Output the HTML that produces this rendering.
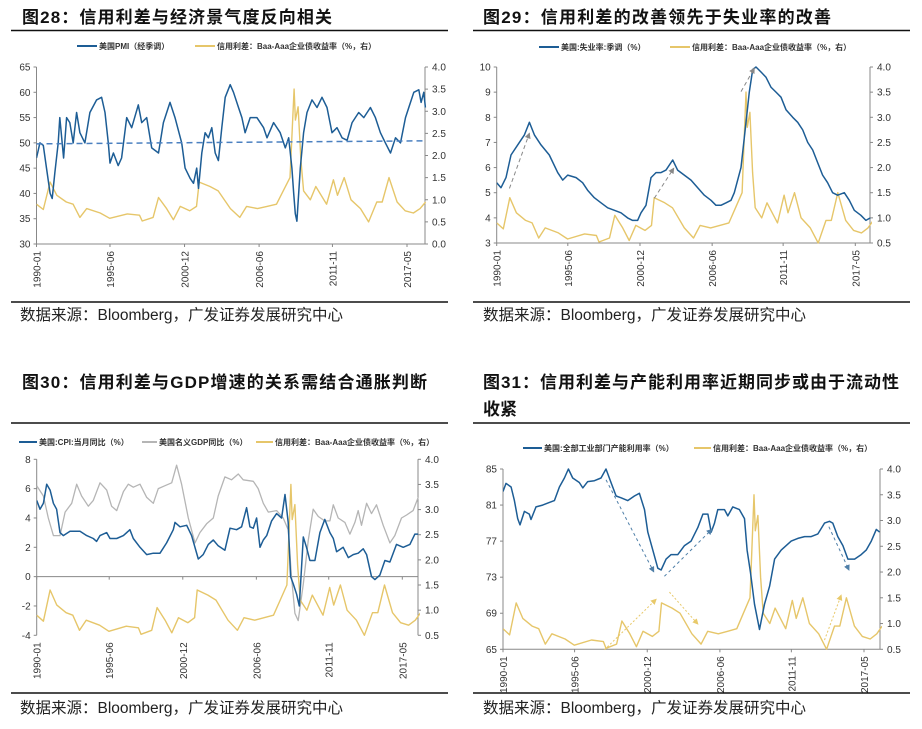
<!DOCTYPE html>
<html><head><meta charset="utf-8">
<style>
html,body{margin:0;padding:0;background:#fff;}
svg{display:block;font-family:"Liberation Sans","Noto Sans CJK SC",sans-serif;}
.title{font-size:17px;font-weight:bold;fill:#111;}
.src{font-size:15.5px;fill:#222;}
.tick{font-size:10px;fill:#333;}
.leg{font-size:8px;fill:#333;font-weight:bold;}
</style></head>
<body>
<svg id="root" width="922" height="729" viewBox="0 0 922 729" xmlns="http://www.w3.org/2000/svg">
<defs>
<marker id="arrGray" markerWidth="6" markerHeight="6" refX="5" refY="3" orient="auto"><path d="M0,0 L6,3 L0,6 z" fill="#888"/></marker>
<marker id="arrBlue" markerWidth="6" markerHeight="6" refX="5" refY="3" orient="auto"><path d="M0,0 L6,3 L0,6 z" fill="#4f7fa8"/></marker>
<marker id="arrYel" markerWidth="6" markerHeight="6" refX="5" refY="3" orient="auto"><path d="M0,0 L6,3 L0,6 z" fill="#e8c96a"/></marker>
</defs>
</svg>
<script>
// ---- shared data ----
const tickYears = [1990.0, 1995.42, 2000.92, 2006.42, 2011.83, 2017.33];
const tickLabels = ["1990-01","1995-06","2000-12","2006-06","2011-11","2017-05"];

const spreadYears = [1990.0,1990.5,1991.0,1991.5,1992.2,1992.7,1993.2,1993.7,1994.7,1995.4,1996.7,1997.6,1997.8,1998.6,1999.0,1999.6,2000.1,2000.6,2001.3,2001.8,2002.0,2002.8,2003.4,2004.3,2005.0,2005.5,2006.3,2007.0,2007.7,2008.2,2008.7,2009.0,2009.1,2009.3,2009.5,2009.7,2010.2,2010.6,2011.4,2011.9,2012.2,2012.7,2013.2,2013.9,2014.5,2015.1,2015.5,2016.0,2016.6,2017.2,2017.8,2018.3,2018.7];
const spreadValues = [0.9,0.78,1.4,1.1,0.95,0.9,0.6,0.8,0.7,0.58,0.68,0.65,0.52,0.6,1.05,0.8,0.55,0.85,0.75,0.85,1.4,1.3,1.2,0.8,0.6,0.85,0.8,0.85,0.9,1.2,1.5,3.5,2.8,3.1,1.9,1.2,1.0,1.3,0.9,1.45,1.1,1.5,1.0,0.8,0.5,0.95,0.95,1.5,0.95,0.75,0.7,0.8,0.95];

const pmiYears = [1990.0,1990.25,1990.5,1990.74,1991.0,1991.16,1991.35,1991.6,1991.72,1992.0,1992.22,1992.46,1992.71,1992.96,1993.2,1993.57,1993.94,1994.43,1994.8,1995.05,1995.3,1995.42,1995.67,1996.03,1996.28,1996.65,1997.02,1997.51,1997.76,1998.13,1998.5,1999.0,1999.36,1999.85,2000.22,2000.71,2000.96,2001.33,2001.58,2001.82,2001.95,2002.19,2002.44,2002.68,2002.93,2003.18,2003.42,2003.67,2003.92,2004.29,2004.53,2004.9,2005.15,2005.39,2005.76,2006.26,2006.75,2007.0,2007.49,2007.98,2008.35,2008.6,2008.84,2008.97,2009.09,2009.21,2009.46,2009.7,2009.95,2010.32,2010.69,2011.06,2011.43,2011.8,2012.17,2012.54,2012.91,2013.28,2013.77,2014.14,2014.63,2015.0,2015.37,2015.74,2016.11,2016.48,2016.85,2017.22,2017.46,2017.83,2018.2,2018.37,2018.57,2018.69];
const pmiValues = [47,50,49.5,45,40,39,44,50,55,47,55,54,50,56,52,50,56,58.5,59,56,50,46,48,45.5,47,55,53,57.5,54,55,49,48,54,58,55,50,45,43,42,45,41,48,52,51,53,48,46.5,53,59,61.5,60,57,55,52,55,55,53,51,54,52,49,51,45,40,36,34.5,45,52,56,58.5,57,59,57,52,53,51,50.5,54,56,55,57,55,52,50,48,51,50,55,57,60,60.5,58,60,57];
const pmiRefStart = 49.8, pmiRefEnd = 50.4;

const unempYears = [1990.0,1990.33,1990.71,1991.09,1991.6,1992.11,1992.49,1992.87,1993.38,1994.01,1994.65,1995.03,1995.41,1996.05,1996.55,1996.93,1997.44,1997.95,1998.46,1998.97,1999.47,1999.98,2000.36,2000.74,2001.0,2001.38,2001.76,2002.14,2002.52,2002.9,2003.41,2003.79,2004.3,2004.81,2005.32,2005.82,2006.33,2006.71,2007.09,2007.48,2007.86,2008.11,2008.62,2009.0,2009.25,2009.51,2009.76,2010.14,2010.52,2010.9,2011.29,2011.67,2012.05,2012.56,2012.94,2013.32,2013.7,2014.08,2014.46,2014.84,2015.22,2015.6,2015.98,2016.49,2016.87,2017.25,2017.76,2018.14,2018.47];
const unempValues = [5.4,5.2,5.6,6.5,6.9,7.3,7.8,7.3,6.9,6.5,5.8,5.5,5.7,5.6,5.4,5.1,4.8,4.6,4.4,4.3,4.2,4.0,3.9,3.9,4.2,4.5,5.6,5.8,5.8,5.9,6.3,5.9,5.7,5.5,5.2,4.9,4.7,4.5,4.5,4.6,4.7,5.0,6.0,7.8,9.0,9.9,10.0,9.8,9.6,9.2,9.0,8.8,8.3,8.0,7.8,7.5,7.0,6.7,6.2,5.7,5.4,5.0,4.9,5.0,4.7,4.3,4.1,3.9,4.0];

const cpiYears = [1990.0,1990.25,1990.5,1990.75,1991.0,1991.25,1991.49,1991.74,1991.99,1992.49,1993.24,1993.74,1994.23,1994.48,1994.73,1995.23,1995.48,1995.98,1996.48,1996.97,1997.22,1997.72,1998.22,1998.72,1999.22,1999.71,2000.21,2000.34,2000.71,2001.21,2001.58,2002.08,2002.45,2002.83,2003.2,2003.57,2004.07,2004.45,2004.94,2005.32,2005.69,2005.94,2006.19,2006.44,2006.69,2006.94,2007.19,2007.56,2007.93,2008.31,2008.56,2008.8,2008.98,2009.18,2009.43,2009.63,2009.93,2010.17,2010.42,2010.8,2011.17,2011.54,2011.92,2012.17,2012.42,2012.91,2013.29,2013.66,2014.03,2014.41,2014.66,2015.03,2015.28,2015.65,2016.03,2016.4,2016.9,2017.4,2017.9,2018.27,2018.52];
const cpiValues = [5.2,4.6,5.0,6.3,5.9,5.0,4.6,3.0,2.8,3.1,3.1,2.8,2.6,2.4,2.8,3.0,2.6,2.6,2.8,3.2,2.6,2.0,1.5,1.6,1.6,2.3,3.2,3.7,3.4,3.5,2.8,1.2,1.5,2.2,2.5,2.1,1.8,3.3,3.2,3.4,4.7,3.4,3.3,4.0,2.0,2.5,2.8,3.8,4.3,4.0,5.6,3.7,0.0,-0.5,-1.2,-2.0,2.7,2.0,1.1,1.1,3.0,3.9,3.0,2.6,1.7,2.0,1.3,1.5,1.6,1.9,1.5,0.0,-0.2,0.1,1.1,1.0,2.2,2.0,2.2,2.9,2.9];

const gdpYears = [1990.0,1990.5,1990.87,1991.25,1991.74,1992.12,1992.62,1992.99,1993.36,1993.86,1994.23,1994.73,1995.23,1995.6,1995.98,1996.48,1996.85,1997.22,1997.72,1998.22,1998.72,1999.09,1999.59,2000.09,2000.46,2000.83,2001.33,2001.83,2002.2,2002.7,2003.2,2003.57,2004.07,2004.57,2005.07,2005.44,2006.19,2006.56,2006.94,2007.31,2007.93,2008.43,2008.8,2009.05,2009.3,2009.55,2009.93,2010.3,2010.67,2011.05,2011.54,2011.92,2012.17,2012.54,2013.04,2013.41,2013.79,2014.03,2014.28,2014.66,2015.03,2015.4,2015.9,2016.4,2016.77,2017.27,2017.65,2018.14,2018.52];
const gdpValues = [6.2,5.5,4.0,2.8,2.8,4.4,5.0,6.3,5.5,4.8,5.2,6.4,5.9,4.8,4.5,5.8,6.3,6.1,6.3,5.4,5.0,6.0,6.2,6.4,7.6,6.3,4.0,2.3,3.0,3.6,4.0,5.5,6.8,6.6,7.0,6.6,6.5,6.0,5.0,4.4,4.5,4.0,3.2,0.0,-2.5,-3.0,-0.5,2.5,4.6,4.1,3.8,3.8,4.9,4.0,3.7,2.9,3.7,4.5,3.5,5.0,4.3,4.9,3.5,2.3,2.8,4.0,4.2,4.5,5.4];

const capYears = [1990.0,1990.23,1990.61,1990.86,1991.11,1991.29,1991.62,1991.99,1992.12,1992.5,1993.0,1993.51,1993.89,1994.27,1994.65,1994.95,1995.28,1995.78,1996.04,1996.41,1996.92,1997.42,1997.8,1998.18,1998.56,1998.94,1999.44,1999.95,2000.33,2000.71,2000.96,2001.34,2001.72,2001.97,2002.35,2002.73,2003.23,2003.74,2004.24,2004.75,2005.13,2005.51,2005.76,2006.01,2006.26,2006.77,2007.02,2007.4,2007.9,2008.28,2008.48,2008.74,2009.04,2009.42,2009.8,2010.18,2010.56,2011.06,2011.44,2011.82,2012.32,2012.83,2013.33,2013.84,2014.34,2014.72,2014.97,2015.35,2015.73,2016.11,2016.62,2017.12,2017.5,2017.88,2018.26,2018.51];
const capValues = [82.5,83.4,83.0,81.5,79.5,78.8,80.3,80.0,79.4,80.8,81.0,81.3,81.5,83.0,84.0,85.0,84.0,83.5,82.9,83.6,83.7,84.0,85.0,83.5,82.0,81.8,81.5,82.0,82.3,80.5,78.0,76.0,74.0,73.8,75.0,75.5,75.5,76.5,77.0,78.5,80.0,80.0,78.0,79.0,80.5,80.5,79.8,80.8,80.5,79.5,76.0,73.5,70.0,67.2,70.0,72.0,75.0,76.0,76.5,77.0,77.3,77.5,77.5,77.8,79.0,79.2,79.0,77.5,76.5,75.0,75.0,75.5,76.0,77.0,78.3,78.0];

// annotation arrows: [x1Year, y1, x2Year, y2]
const unempArrows = [[1990.97,5.17,1992.49,7.36],[2002.01,4.78,2003.49,5.97],[2008.62,9.02,2009.63,9.95]];
const capArrows = [[1997.8,83.8,2001.41,73.6],[2002.22,73.1,2005.81,78.3],[2014.67,78.6,2016.19,73.8]];
const capSpreadArrows = [[1997.68,0.49,2001.59,1.47],[2002.6,1.61,2004.75,0.99],[2014.34,0.68,2015.6,1.55]];

const pmiLeftTicks = [30,35,40,45,50,55,60,65];
const spread0Ticks = ["0.0","0.5","1.0","1.5","2.0","2.5","3.0","3.5","4.0"];
const unempLeftTicks = [3,4,5,6,7,8,9,10];
const spreadHalfTicks = ["0.5","1.0","1.5","2.0","2.5","3.0","3.5","4.0"];
const cpiLeftTicks = [-4,-2,0,2,4,6,8];
const capLeftTicks = [65,69,73,77,81,85];

// ---- drawing helpers ----
const NS = "http://www.w3.org/2000/svg";
const root = document.getElementById("root");
function el(tag, attrs, parent, text){
  const e = document.createElementNS(NS, tag);
  for (const k in attrs) e.setAttribute(k, attrs[k]);
  if (text !== undefined) e.textContent = text;
  (parent || root).appendChild(e);
  return e;
}
const BLUE = "#1d5d95", YEL = "#e6c66a", GRAY = "#b5b5b5";

function makePanel(cfg){
  const g = el("g", {});
  
  
  const xs = y => cfg.x0 + (y - 1990.0) * (cfg.x1 - cfg.x0) / (2017.33 - 1990.0);
  const yl = v => cfg.yTop + (cfg.lMax - v) * (cfg.yBot - cfg.yTop) / (cfg.lMax - cfg.lMin);
  const yr = v => cfg.yTop + (cfg.rMax - v) * (cfg.yBot - cfg.yTop) / (cfg.rMax - cfg.rMin);
  const cid = "clip-" + cfg.name;
  const cp = el("clipPath", {id: cid}, g);
  el("rect", {x: cfg.x0, y: cfg.yTop - 10, width: cfg.xEnd - cfg.x0 + 2, height: cfg.yBot - cfg.yTop + 20}, cp);
  const la = el("line", {x1: cfg.x0, y1: cfg.yTop, x2: cfg.x0, y2: cfg.yBot, stroke: "#888", "stroke-width": 1}, g);
  
  
  const ra = el("line", {x1: cfg.xEnd, y1: cfg.yTop, x2: cfg.xEnd, y2: cfg.yBot, stroke: "#888", "stroke-width": 1}, g);
  
  
  const axY = cfg.zeroAxis !== undefined ? yl(cfg.zeroAxis) : cfg.yBot;
  const xa = el("line", {x1: cfg.x0, y1: axY, x2: cfg.xEnd, y2: axY, stroke: "#888", "stroke-width": 1}, g);
  
  
  cfg.leftTicks.forEach(v => {
    const y = yl(v);
    el("line", {x1: cfg.x0 - 3, y1: y, x2: cfg.x0, y2: y, stroke: "#888"}, g);
    const t = el("text", {x: cfg.x0 - 6, y: y + 3.5, "text-anchor": "end", class: "tick"}, g, String(v));
    
    
  });
  cfg.rightTicks.forEach(s => {
    const y = yr(parseFloat(s));
    el("line", {x1: cfg.xEnd, y1: y, x2: cfg.xEnd + 3, y2: y, stroke: "#888"}, g);
    const t = el("text", {x: cfg.xEnd + 7, y: y + 3.5, class: "tick"}, g, s);
    
    
  });
  tickYears.forEach((yrv, i) => {
    const x = xs(yrv);
    el("line", {x1: x, y1: axY, x2: x, y2: axY + 3, stroke: "#888"}, g);
    const ty = cfg.yBot + 7;
    const t = el("text", {x: x + 4, y: ty, "text-anchor": "end", class: "tick", transform: "rotate(-90 " + (x + 4) + " " + ty + ")"}, g, tickLabels[i]);
    
    
  });
  const pg = el("g", {"clip-path": "url(#" + cid + ")"}, g);
  function series(years, vals, ys, color, w, name){
    const d = years.map((yv, i) => (i ? "L" : "M") + xs(yv).toFixed(1) + "," + ys(vals[i]).toFixed(1)).join(" ");
    const p = el("path", {d: d, fill: "none", stroke: color, "stroke-width": w, "stroke-linejoin": "round"}, pg);
    
    
  }
  function arrows(list, ys, color, marker, dash, name){
    list.forEach(a => {
      const l = el("line", {x1: xs(a[0]), y1: ys(a[1]), x2: xs(a[2]), y2: ys(a[3]), stroke: color, "stroke-width": 1, "stroke-dasharray": dash, "marker-end": "url(#" + marker + ")"}, g);
      
      
    });
  }
  return {g, xs, yl, yr, series, arrows};
}

function text(x, y, cls, s, name, len){
  const t = el("text", {x: x, y: y, class: cls}, root, s);
  if (len) { t.setAttribute("textLength", len); t.setAttribute("lengthAdjust", "spacing"); }
  
  
  return t;
}
function rule(x1, x2, y, name){
  const l = el("line", {x1: x1, y1: y, x2: x2, y2: y, stroke: "#111", "stroke-width": 1.5});
  
  
}
function legend(x1, x2, y, color, label, name){
  const l = el("line", {x1: x1, y1: y, x2: x2, y2: y, stroke: color, "stroke-width": 2});
  
  
  text(x2 + 2, y + 3, "leg", label, name);
}
const SRC = "数据来源：Bloomberg，广发证券发展研究中心";
const SPREAD_LBL = "信用利差：Baa-Aaa企业债收益率（%，右）";

// ---- Panel 28 ----
text(22, 23, "title", "图28：信用利差与经济景气度反向相关", "title-fig28", 310);
rule(11, 448, 30.5, "title-rule-fig28");
legend(77, 97, 46, BLUE, "美国PMI（经季调）", "legend-pmi");
legend(195, 215, 46, YEL, SPREAD_LBL, "legend-spread-fig28");
const p1 = makePanel({name: "chart-fig28", x0: 36.5, x1: 407, xEnd: 425, yTop: 67, yBot: 244, lMin: 30, lMax: 65, rMin: 0, rMax: 4, leftTicks: pmiLeftTicks, rightTicks: spread0Ticks});
p1.series(spreadYears, spreadValues, p1.yr, YEL, 1.4, "spread-line-fig28");
p1.series(pmiYears, pmiValues, p1.yl, BLUE, 1.5, "pmi-line");
const ref = el("line", {x1: p1.xs(1990.0), y1: p1.yl(pmiRefStart), x2: 425, y2: p1.yl(pmiRefEnd), stroke: "#4b80c0", "stroke-width": 1.5, "stroke-dasharray": "6,4"});


rule(11, 448, 302, "source-rule-fig28");
text(20, 320, "src", SRC, "source-fig28", 323);

// ---- Panel 29 ----
text(483, 23, "title", "图29：信用利差的改善领先于失业率的改善", "title-fig29", 348);
rule(473, 910, 30.5, "title-rule-fig29");
legend(539, 559, 47, BLUE, "美国:失业率:季调（%）", "legend-unemployment");
legend(670, 690, 47, YEL, SPREAD_LBL, "legend-spread-fig29");
const p2 = makePanel({name: "chart-fig29", x0: 496.7, x1: 855.3, xEnd: 870, yTop: 67, yBot: 243, lMin: 3, lMax: 10, rMin: 0.5, rMax: 4, leftTicks: unempLeftTicks, rightTicks: spreadHalfTicks});
p2.series(spreadYears, spreadValues, p2.yr, YEL, 1.4, "spread-line-fig29");
p2.series(unempYears, unempValues, p2.yl, BLUE, 1.5, "unemployment-line");
p2.arrows(unempArrows, p2.yl, "#888", "arrGray", "4,3", "lead-arrow");
rule(473, 910, 302, "source-rule-fig29");
text(483, 320, "src", SRC, "source-fig29", 323);

// ---- Panel 30 ----
text(22, 388, "title", "图30：信用利差与GDP增速的关系需结合通胀判断", "title-fig30", 405);
rule(11, 448, 423, "title-rule-fig30");
legend(19, 37, 442, BLUE, "美国:CPI:当月同比（%）", "legend-cpi");
legend(142, 157, 442, GRAY, "美国名义GDP同比（%）", "legend-gdp");
legend(256, 273, 442, YEL, SPREAD_LBL, "legend-spread-fig30");
const p3 = makePanel({name: "chart-fig30", x0: 36.7, x1: 402.3, xEnd: 418, yTop: 459.3, yBot: 635.3, lMin: -4, lMax: 8, rMin: 0.5, rMax: 4, leftTicks: cpiLeftTicks, rightTicks: spreadHalfTicks, zeroAxis: 0});
p3.series(gdpYears, gdpValues, p3.yl, GRAY, 1.3, "gdp-line");
p3.series(spreadYears, spreadValues, p3.yr, YEL, 1.4, "spread-line-fig30");
p3.series(cpiYears, cpiValues, p3.yl, BLUE, 1.5, "cpi-line");
rule(11, 448, 693, "source-rule-fig30");
text(20, 713, "src", SRC, "source-fig30", 323);

// ---- Panel 31 ----
text(483, 388, "title", "图31：信用利差与产能利用率近期同步或由于流动性", "title-fig31-line1", 416);
text(483, 415, "title", "收紧", "title-fig31-line2", 34);
rule(473, 910, 423, "title-rule-fig31");
legend(523, 542, 448, BLUE, "美国:全部工业部门产能利用率（%）", "legend-capacity");
legend(694, 711, 448, YEL, SPREAD_LBL, "legend-spread-fig31");
const p4 = makePanel({name: "chart-fig31", x0: 503, x1: 864, xEnd: 880, yTop: 469, yBot: 649.3, lMin: 65, lMax: 85, rMin: 0.5, rMax: 4, leftTicks: capLeftTicks, rightTicks: spreadHalfTicks});
p4.series(spreadYears, spreadValues, p4.yr, YEL, 1.4, "spread-line-fig31");
p4.series(capYears, capValues, p4.yl, BLUE, 1.5, "capacity-line");
p4.arrows(capArrows, p4.yl, "#4f7fa8", "arrBlue", "3,3", "capacity-arrow");
p4.arrows(capSpreadArrows, p4.yr, "#e8c96a", "arrYel", "2,2", "spread-arrow");
rule(473, 910, 693, "source-rule-fig31");
text(483, 713, "src", SRC, "source-fig31", 323);
</script>
</body></html>
